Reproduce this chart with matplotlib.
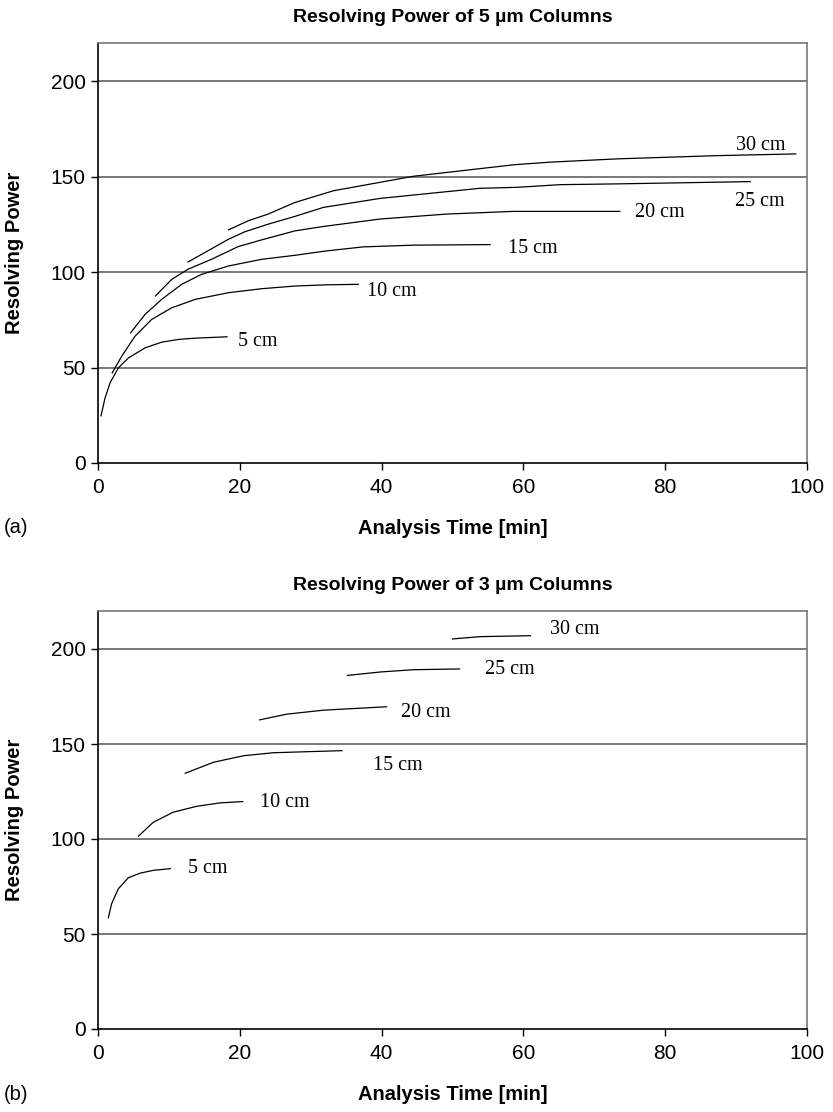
import matplotlib
matplotlib.use("Agg")
import matplotlib.pyplot as plt

plt.rcParams['font.family'] = ['Liberation Sans', 'DejaVu Sans']

# ---- data: 5 um columns (panel a) ----
a_5_t = [0.42, 0.99, 1.69, 2.87, 4.28, 6.63, 8.98, 11.3, 13.7, 18.2]
a_5_r = [24.7, 34.0, 41.9, 49.8, 55.0, 60.3, 63.3, 64.7, 65.4, 66.1]
a_10_t = [2.0, 3.34, 5.22, 7.57, 10.4, 13.7, 18.4, 23.1, 27.8, 32.0, 36.7]
a_10_r = [47.2, 55.9, 66.4, 75.2, 81.3, 85.7, 89.2, 91.3, 92.7, 93.3, 93.6]
a_15_t = [4.6, 6.63, 8.98, 11.8, 14.6, 18.4, 23.1, 27.8, 32.0, 37.4, 44.5, 55.3]
a_15_r = [68.2, 77.8, 85.7, 93.6, 98.8, 103.2, 106.7, 108.8, 111.0, 113.2, 114.1, 114.4]
a_20_t = [8.1, 10.4, 12.7, 16.0, 19.8, 23.1, 27.8, 31.8, 39.8, 49.2, 58.6, 73.6]
a_20_r = [87.5, 96.2, 101.5, 106.7, 113.4, 116.9, 121.6, 123.9, 127.8, 130.4, 131.8, 131.8]
a_25_t = [12.7, 15.1, 18.4, 20.7, 24.0, 27.8, 31.8, 39.8, 53.9, 59.1, 65.2, 73.2, 92.0]
a_25_r = [105.3, 110.3, 117.2, 121.1, 125.1, 129.2, 133.9, 138.6, 143.9, 144.4, 145.8, 146.2, 147.4]
a_30_t = [18.4, 21.2, 24.0, 27.8, 33.2, 44.5, 58.6, 63.8, 73.2, 87.3, 98.4]
a_30_r = [122.1, 126.9, 130.4, 136.5, 142.6, 150.2, 156.2, 157.6, 159.3, 161.0, 161.9]

# ---- data: 3 um columns (panel b) ----
b_5_t = [1.46, 1.93, 2.87, 4.28, 5.92, 7.8, 10.2]
b_5_r = [58.6, 66.0, 73.8, 79.6, 82.0, 83.5, 84.4]
b_10_t = [5.7, 7.8, 10.6, 13.9, 17.2, 20.4]
b_10_r = [101.5, 108.8, 114.1, 117.2, 119.0, 119.7]
b_15_t = [12.3, 16.3, 20.5, 24.7, 34.4]
b_15_r = [134.6, 140.4, 143.8, 145.4, 146.5]
b_20_t = [22.8, 26.6, 31.8, 40.7]
b_20_r = [162.7, 165.7, 167.8, 169.6]
b_25_t = [35.2, 39.8, 44.5, 51.0]
b_25_r = [186.1, 187.9, 189.1, 189.5]
b_30_t = [50.0, 53.9, 61.0]
b_30_r = [205.3, 206.5, 207.0]

labels = ['5 cm', '10 cm', '15 cm', '20 cm', '25 cm', '30 cm']
a_label_pos = [(19.8, 63.8), (37.9, 90.0), (57.8, 112.3), (75.7, 131.3), (89.8, 136.9), (90.0, 166.3)]
b_label_pos = [(12.7, 84.4), (22.8, 119.0), (38.8, 138.7), (42.7, 166.4), (54.6, 189.3), (63.8, 210.2)]

a_series = [(a_5_t, a_5_r), (a_10_t, a_10_r), (a_15_t, a_15_r),
            (a_20_t, a_20_r), (a_25_t, a_25_r), (a_30_t, a_30_r)]
b_series = [(b_5_t, b_5_r), (b_10_t, b_10_r), (b_15_t, b_15_r),
            (b_20_t, b_20_r), (b_25_t, b_25_r), (b_30_t, b_30_r)]

titles = ['Resolving Power of 5 µm Columns', 'Resolving Power of 3 µm Columns']
panel_tags = ['(a)', '(b)']

W, H = 833, 1112
fig = plt.figure(figsize=(W / 100, H / 100), dpi=100)

# axes rectangles in pixels: left, top, right, bottom
rects = [(98, 43, 807, 463), (98, 611, 807, 1029)]

for i, (series, lpos) in enumerate([(a_series, a_label_pos), (b_series, b_label_pos)]):
    l, t, r, b = rects[i]
    ax = fig.add_axes([l / W, 1 - b / H, (r - l) / W, (b - t) / H])
    ax.set_xlim(0, 100)
    ax.set_ylim(0, 220)
    ax.set_xticks([0, 20, 40, 60, 80, 100])
    ax.set_yticks([0, 50, 100, 150, 200])
    for yv in [50, 100, 150, 200]:
        ax.axhline(yv, color='#555555', lw=1.1, zorder=1)
    for (tt, rr) in series:
        ax.plot(tt, rr, color='black', lw=0.9, zorder=3)
    for lab, (x, y) in zip(labels, lpos):
        ax.text(x, y, lab, family=['Liberation Serif', 'DejaVu Serif'], fontsize=14.5,
                ha='left', va='center', zorder=4)
    for s in ['left', 'bottom']:
        ax.spines[s].set_color('black')
        ax.spines[s].set_linewidth(1.2)
    for s in ['top', 'right']:
        ax.spines[s].set_color('#777777')
        ax.spines[s].set_linewidth(1.2)
    ax.tick_params(axis='both', direction='out', length=5, width=1, labelsize=15,
                   color='black', pad=4)
    ax.tick_params(axis='x', pad=6)
    h = b - t
    ax.text(0.5, 1 + 26 / h, titles[i], transform=ax.transAxes, ha='center', va='center',
            fontsize=14, fontweight='bold')
    ax.text(0.5, -65 / h, 'Analysis Time [min]', transform=ax.transAxes, ha='center',
            va='center', fontsize=14.5, fontweight='bold')
    ax.text((15 - l) / (r - l), 0.5, 'Resolving Power', transform=ax.transAxes, ha='center',
            va='center', rotation=90, fontsize=14.5, fontweight='bold')
    fig.text(4 / W, 1 - (b + 65) / H, panel_tags[i], ha='left', va='center', fontsize=14.5)

fig.savefig('out.png', dpi=100)
